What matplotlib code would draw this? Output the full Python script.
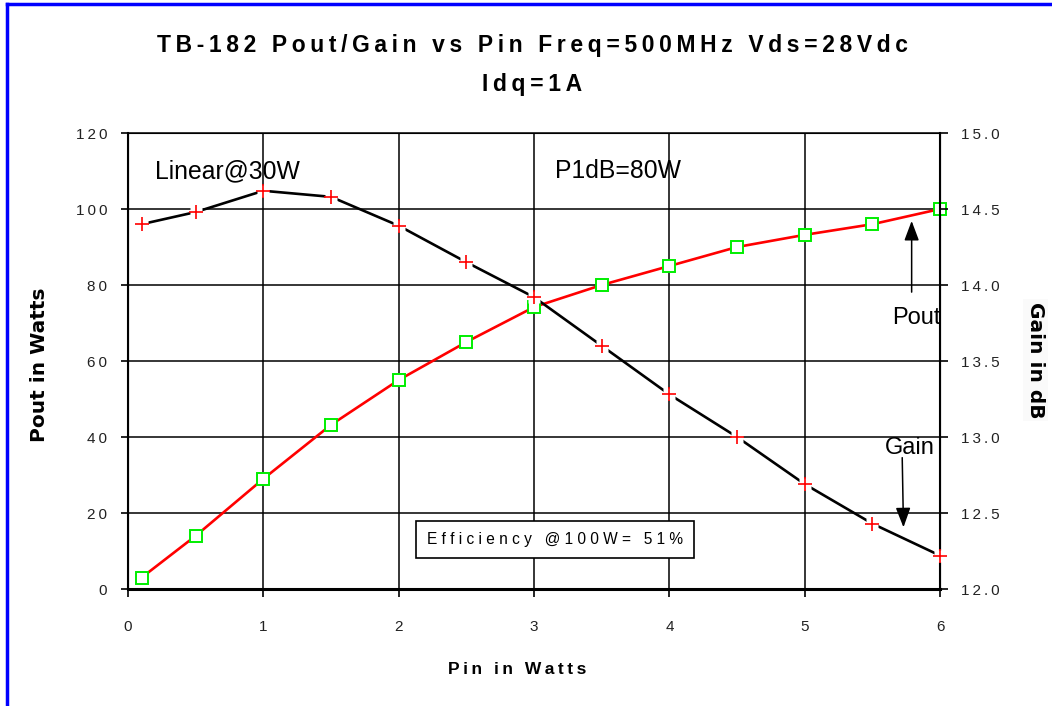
import matplotlib
matplotlib.use("Agg")
import matplotlib.pyplot as plt
from matplotlib.lines import Line2D

plt.rcParams['font.family'] = ['Liberation Sans', 'DejaVu Sans']

# data
pin = [0.1, 0.5, 1.0, 1.5, 2.0, 2.5, 3.0, 3.5, 4.0, 4.5, 5.0, 5.5, 6.0]
pout = [3, 14, 29, 43.2, 55, 65, 74.2, 80, 85, 90, 93.2, 96, 100]
gain = [14.40, 14.48, 14.62, 14.58, 14.39, 14.15, 13.92, 13.60, 13.28, 13.00, 12.69, 12.43, 12.22]

x_ticks = [0, 1, 2, 3, 4, 5, 6]
pout_ticks = [0, 20, 40, 60, 80, 100, 120]
gain_ticks = [12.0, 12.5, 13.0, 13.5, 14.0, 14.5, 15.0]

title1 = "TB-182 Pout/Gain vs Pin Freq=500MHz Vds=28Vdc"
title2 = "Idq=1A"
eff_note = "Efficiency @100W= 51%"


def spaced(s, sep='\u2009'):
    # crude letter spacing
    return sep.join(s)


fig = plt.figure(figsize=(10.52, 7.06), dpi=100)
ax = fig.add_axes([0.1217, 0.1657, 0.7719, 0.6459])
ax2 = ax.twinx()

# blue frame (top and left edges visible)
fig.add_artist(Line2D([0.0071, 0.0071], [0, 0.995], transform=fig.transFigure, color='blue', lw=2.5))
fig.add_artist(Line2D([0.0071, 1.0], [0.995, 0.995], transform=fig.transFigure, color='blue', lw=2.5))

ax.set_xlim(0, 6)
ax.set_ylim(0, 120)
ax2.set_ylim(12, 15)

ax.set_xticks(x_ticks)
ax.set_xticklabels([str(v) for v in x_ticks])
ax.set_yticks(pout_ticks)
ax.set_yticklabels([spaced(str(v)) for v in pout_ticks])
ax2.set_yticks(gain_ticks)
ax2.set_yticklabels([spaced(f"{v:.1f}") for v in gain_ticks])

ax.grid(True, color='black', lw=1.1)
ax.set_axisbelow(True)
for sp in ax.spines.values():
    sp.set_color('black')
ax.spines['bottom'].set_linewidth(2.2)
ax.spines['left'].set_linewidth(1.5)
ax.spines['top'].set_linewidth(1.1)
ax2.spines['right'].set_linewidth(1.5)

ax.tick_params(axis='x', direction='out', length=6, width=1.2, pad=16, labelsize=11, colors='black', labelcolor='#222222')
ax.tick_params(axis='y', direction='out', length=5, width=1.2, pad=10, labelsize=11, labelcolor='#222222')
ax2.tick_params(axis='y', direction='out', length=6, width=1.2, pad=9, labelsize=11, labelcolor='#222222')

# Pout curve
ax.plot(pin, pout, color='red', lw=1.9, marker='s', markersize=9, mfc='white',
        mec='#00ee00', mew=1.4, zorder=3, clip_on=False)

# Gain curve (white blobs break the line at each marker)
ax2.plot(pin, gain, color='black', lw=1.9, marker='s', markersize=9, mfc='white',
         mec='none', zorder=3, clip_on=False)
ax2.plot(pin, gain, ls='none', marker='+', markersize=10, mec='red', mew=1.2,
         zorder=4, clip_on=False)

# annotations
ax.text(0.2, 110, "Linear@30W", fontsize=17.8, va='center', ha='left', zorder=5)
ax.text(3.155, 110, "P1dB=80W", fontsize=17.8, va='center', ha='left', zorder=5)
ax.text(5.645, 71.3, "Pout", fontsize=17, va='center', ha='left', zorder=5)
ax.text(5.59, 37.1, "Gain", fontsize=17, va='center', ha='left', zorder=5)

ax.annotate("", xy=(5.79, 97.6), xytext=(5.79, 77.4),
            arrowprops=dict(arrowstyle='-|>,head_length=1.2,head_width=0.45', color='black', lw=1.1),
            zorder=5)
ax.annotate("", xy=(5.73, 15.5), xytext=(5.72, 35.3),
            arrowprops=dict(arrowstyle='-|>,head_length=1.2,head_width=0.45', color='black', lw=1.1),
            zorder=5)

ax.text(3.155, 13.0, spaced(eff_note, ' '), fontsize=11.2, va='center', ha='center', zorder=6,
        bbox=dict(boxstyle='square,pad=0.72', fc='white', ec='black', lw=1.2))

# titles and axis labels
fig.text(0.506, 0.936, spaced(title1), fontsize=16.5, fontweight='bold', ha='center', va='center')
fig.text(0.506, 0.880, spaced(title2), fontsize=16.5, fontweight='bold', ha='center', va='center')
fig.text(0.4914, 0.051, spaced("Pin in Watts"), fontsize=12.5, fontweight='bold', ha='center', va='center')
fig.text(0.038, 0.483, "Pout in Watts", fontsize=14.5, fontweight='heavy', family=['DejaVu Sans'],
         rotation=90, ha='center', va='center')
fig.text(0.984, 0.49, "Gain in dB", fontsize=14.5, fontweight='heavy', family=['DejaVu Sans'],
         rotation=270, ha='center', va='center',
         bbox=dict(boxstyle='square,pad=0.15', fc='#fafafa', ec='none'))

fig.savefig("out.png", dpi=100, facecolor='white')
